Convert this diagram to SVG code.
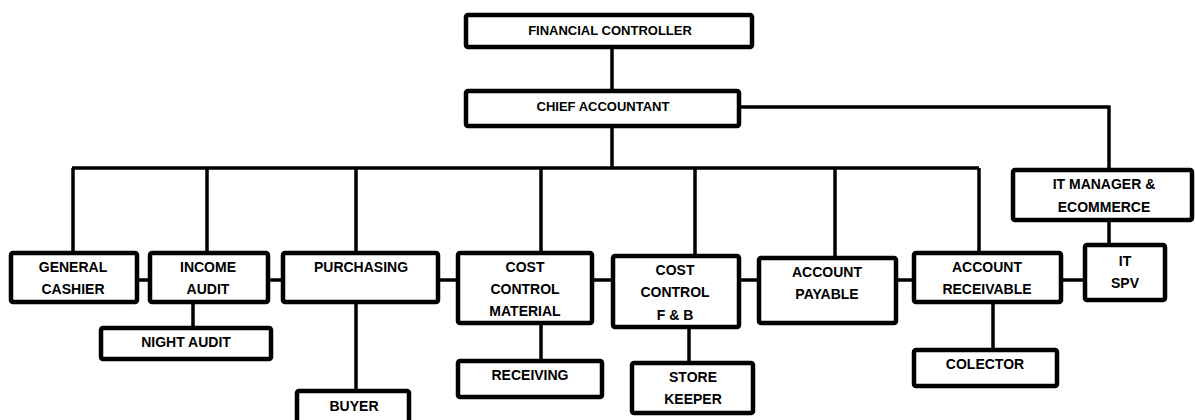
<svg xmlns="http://www.w3.org/2000/svg" width="1195" height="420" viewBox="0 0 1195 420">
<style>
.b{fill:#fff;stroke:#000;stroke-width:4.5;}
.t{font-family:"Liberation Sans",Arial,sans-serif;font-weight:bold;font-size:14px;fill:#000;text-anchor:middle;}
.s{font-size:13px;}
.c{fill:none;stroke:#000;stroke-width:3.5;}
</style>
<rect width="1195" height="420" fill="#fff"/>
<g id="connectors">
<path class="c" d="M612 48V91"/>
<path class="c" d="M740 107H1109V168"/>
<path class="c" d="M612 127V168"/>
<path class="c" d="M72 168H979"/>
<path class="c" d="M73 168V252M207 168V252M356 168V252M541 168V252M695 168V255M835 168V257M979 168V252"/>
<path class="c" d="M137 280H149M269 280H282M429 280H457M593 280H612M740 280H758M897 280H913M1062 280H1084"/>
<path class="c" d="M193 304V327"/>
<path class="c" d="M356 292V390"/>
<path class="c" d="M541 324V360"/>
<path class="c" d="M689 328V362"/>
<path class="c" d="M993 303V349"/>
<path class="c" d="M1109 219V244"/>
</g>
<g id="financial-controller"><rect class="b" x="466" y="15" width="286" height="32" rx="2"/><text class="t s" x="610" y="35">FINANCIAL CONTROLLER</text></g>
<g id="chief-accountant"><rect class="b" x="466" y="91" width="273" height="35" rx="2"/><text class="t s" x="603" y="111">CHIEF ACCOUNTANT</text></g>
<g id="it-manager"><rect class="b" x="1013" y="170" width="179" height="50" rx="2"/><text class="t" x="1104" y="189">IT MANAGER &amp;</text><text class="t" x="1104" y="212">ECOMMERCE</text></g>
<g id="general-cashier"><rect class="b" x="11" y="253" width="126" height="49" rx="2"/><text class="t" x="73" y="272">GENERAL</text><text class="t" x="73" y="294">CASHIER</text></g>
<g id="income-audit"><rect class="b" x="150" y="253" width="118" height="49" rx="2"/><text class="t" x="208" y="272">INCOME</text><text class="t" x="208" y="294">AUDIT</text></g>
<g id="night-audit"><rect class="b" x="101" y="328" width="170" height="31" rx="2"/><text class="t" x="186" y="347">NIGHT AUDIT</text></g>
<g id="purchasing"><rect class="b" x="283" y="253" width="155" height="49" rx="2"/><text class="t" x="361" y="272">PURCHASING</text></g>
<g id="buyer"><rect class="b" x="297" y="391" width="112" height="36" rx="2"/><text class="t" x="354" y="411">BUYER</text></g>
<g id="cost-control-material"><rect class="b" x="458" y="253" width="134" height="70" rx="2"/><text class="t" x="525" y="272">COST</text><text class="t" x="525" y="294">CONTROL</text><text class="t" x="525" y="316">MATERIAL</text></g>
<g id="receiving"><rect class="b" x="458" y="361" width="144" height="36" rx="2"/><text class="t" x="530" y="380">RECEIVING</text></g>
<g id="cost-control-fb"><rect class="b" x="613" y="256" width="126" height="71" rx="2"/><text class="t" x="675" y="275">COST</text><text class="t" x="675" y="297">CONTROL</text><text class="t" x="675" y="320">F &amp; B</text></g>
<g id="store-keeper"><rect class="b" x="632" y="363" width="121" height="50" rx="2"/><text class="t" x="693" y="382">STORE</text><text class="t" x="693" y="404">KEEPER</text></g>
<g id="account-payable"><rect class="b" x="759" y="258" width="137" height="65" rx="2"/><text class="t" x="827" y="277">ACCOUNT</text><text class="t" x="827" y="299">PAYABLE</text></g>
<g id="account-receivable"><rect class="b" x="914" y="253" width="147" height="49" rx="2"/><text class="t" x="987" y="272">ACCOUNT</text><text class="t" x="987" y="294">RECEIVABLE</text></g>
<g id="colector"><rect class="b" x="914" y="350" width="143" height="36" rx="2"/><text class="t" x="985" y="369">COLECTOR</text></g>
<g id="it-spv"><rect class="b" x="1085" y="245" width="80" height="55" rx="2"/><text class="t" x="1125" y="266">IT</text><text class="t" x="1125" y="288">SPV</text></g>
</svg>
